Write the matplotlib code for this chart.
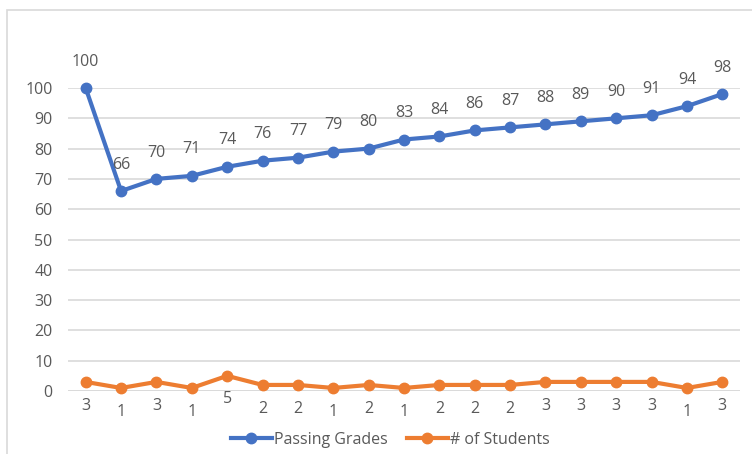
import matplotlib.pyplot as plt
from matplotlib.patches import Rectangle

plt.rcParams['font.family'] = ['Open Sans', 'DejaVu Sans']

# data
grades = [100, 66, 70, 71, 74, 76, 77, 79, 80, 83, 84, 86, 87, 88, 89, 90, 91, 94, 98]
students = [3, 1, 3, 1, 5, 2, 2, 1, 2, 1, 2, 2, 2, 3, 3, 3, 3, 1, 3]
yticks = [0, 10, 20, 30, 40, 50, 60, 70, 80, 90, 100]

blue = '#4472C4'
orange = '#ED7D31'
grey = '#595959'

fig = plt.figure(figsize=(7.52, 4.54), dpi=100)
W, H = 752, 454
ax = fig.add_axes([68 / W, (H - 391) / H, (740 - 68) / W, (391 - 88) / H])

# chart border (bottom/right run off the image)
fig.patches.append(Rectangle((7 / W, -0.05), 1.0, 1.05 - 10 / H, transform=fig.transFigure,
                             fill=False, edgecolor='#D9D9D9', linewidth=1.2))

x = list(range(len(grades)))
ax.plot(x, grades, color=blue, lw=3, marker='o', ms=7.5, label='Passing Grades',
        clip_on=False, zorder=3)
ax.plot(x, students, color=orange, lw=3, marker='o', ms=7.5, label='# of Students',
        clip_on=False, zorder=3)

for i, v in enumerate(grades):
    ax.annotate(str(v), (i, v), xytext=(0, 19), textcoords='offset points',
                ha='center', va='center', fontsize=11.5, color=grey)
for i, v in enumerate(students):
    ax.annotate(str(v), (i, v), xytext=(0, -17), textcoords='offset points',
                ha='center', va='center', fontsize=11.5, color=grey)

ax.set_xlim(-0.5, len(grades) - 0.5)
ax.set_ylim(0, 100)
ax.set_yticks(yticks)
ax.set_xticks([])
ax.tick_params(axis='y', length=0, pad=11, labelsize=11.5, labelcolor=grey)
ax.grid(axis='y', color='#D9D9D9', lw=1.2)
ax.set_axisbelow(True)
for s in ax.spines.values():
    s.set_visible(False)
ax.axhline(0, color='#D9D9D9', lw=1.2, zorder=1)

fig.legend(loc='center', bbox_to_anchor=(390 / W, (H - 440) / H), ncol=2, frameon=False,
           fontsize=11.5, labelcolor=grey, handlelength=2.6, handletextpad=0.1,
           columnspacing=1.2)

fig.savefig('out.png', dpi=100)
